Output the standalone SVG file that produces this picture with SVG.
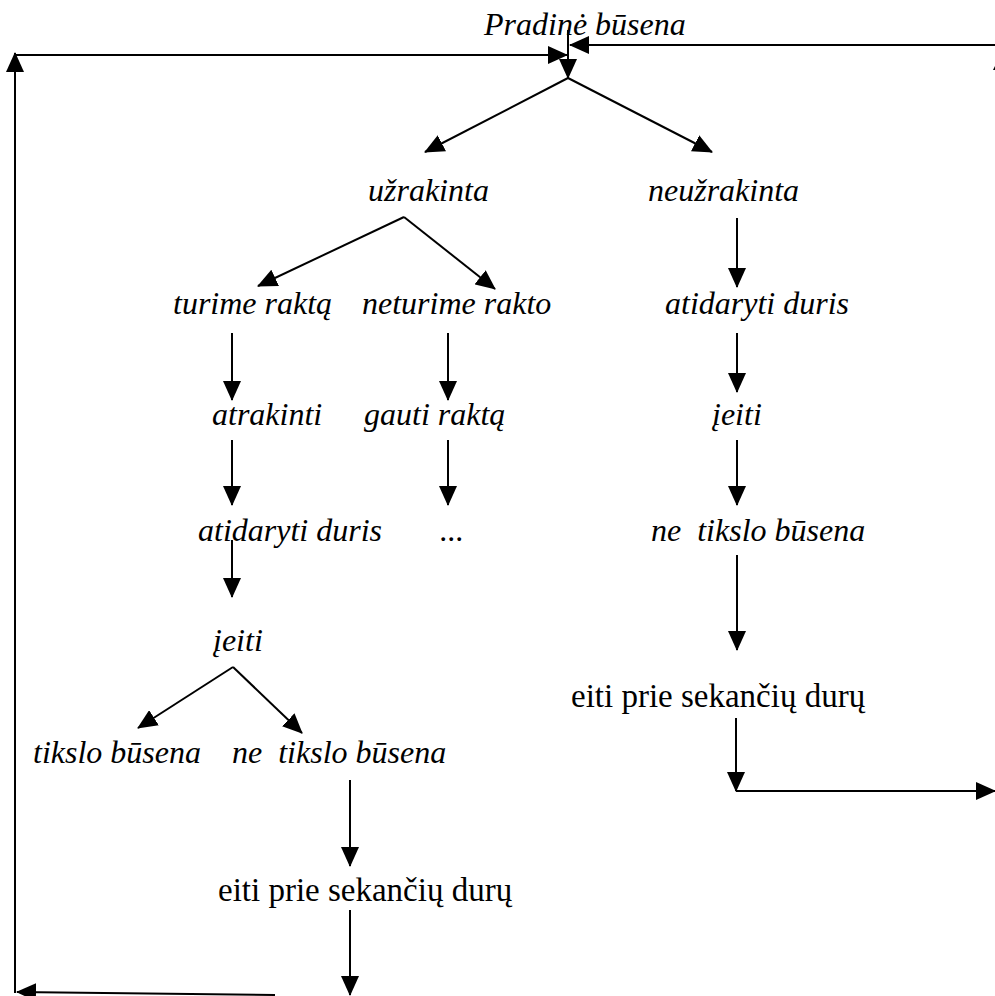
<svg xmlns="http://www.w3.org/2000/svg" width="995" height="996" viewBox="0 0 995 996">
<defs>
<marker id="ah" markerUnits="userSpaceOnUse" markerWidth="20" markerHeight="18" viewBox="0 0 20 18" refX="19" refY="9" orient="auto">
<path d="M0,0 L20,9 L0,18 z" fill="#000"/>
</marker>
<style>
.t{font-family:"Liberation Serif","Times New Roman",serif;font-size:32px;fill:#000}
.r{font-size:33px}
.i{font-style:italic}
.c line{stroke:#000;stroke-width:2;fill:none}
.c .a{marker-end:url(#ah)}
</style>
</defs>
<rect width="995" height="996" fill="#fff"/>
<g id="n-start"><text class="t i" x="484" y="35">Pradinė būsena</text></g>
<g id="n-uzrakinta"><text class="t i" x="368" y="201">užrakinta</text></g>
<g id="n-neuzrakinta"><text class="t i" x="648" y="201">neužrakinta</text></g>
<g id="n-turime"><text class="t i" x="173" y="314">turime raktą</text></g>
<g id="n-neturime"><text class="t i" x="362" y="314">neturime rakto</text></g>
<g id="n-atidaryti-r"><text class="t i" x="665" y="314">atidaryti duris</text></g>
<g id="n-atrakinti"><text class="t i" x="212" y="425">atrakinti</text></g>
<g id="n-gauti"><text class="t i" x="364" y="425">gauti raktą</text></g>
<g id="n-ieiti-r"><text class="t i" x="712" y="425">įeiti</text></g>
<g id="n-atidaryti-l"><text class="t i" x="198" y="541">atidaryti duris</text></g>
<g id="n-dots"><text class="t i" x="440" y="541">...</text></g>
<g id="n-netikslo-r"><text class="t i" x="651" y="541" xml:space="preserve">ne  tikslo būsena</text></g>
<g id="n-ieiti-l"><text class="t i" x="213" y="651">įeiti</text></g>
<g id="n-eiti-r"><text class="t r" x="571" y="707">eiti prie sekančių durų</text></g>
<g id="n-tikslo"><text class="t i" x="33" y="763">tikslo būsena</text></g>
<g id="n-netikslo-l"><text class="t i" x="232" y="763" xml:space="preserve">ne  tikslo būsena</text></g>
<g id="n-eiti-l"><text class="t r" x="218" y="901">eiti prie sekančių durų</text></g>
<g id="connectors" class="c">
<line class="a" x1="568" y1="30" x2="568" y2="78"/>
<line class="a" x1="568" y1="78" x2="425" y2="152"/>
<line class="a" x1="568" y1="78" x2="712" y2="152"/>
<line class="a" x1="404" y1="217" x2="258" y2="286"/>
<line class="a" x1="404" y1="217" x2="495" y2="289"/>
<line class="a" x1="232" y1="333" x2="232" y2="400"/>
<line class="a" x1="448" y1="333" x2="448" y2="400"/>
<line class="a" x1="737" y1="218" x2="737" y2="287"/>
<line class="a" x1="737" y1="333" x2="737" y2="392"/>
<line class="a" x1="232" y1="440" x2="232" y2="505"/>
<line class="a" x1="448" y1="440" x2="448" y2="505"/>
<line class="a" x1="737" y1="440" x2="737" y2="505"/>
<line class="a" x1="232" y1="540" x2="232" y2="597"/>
<line class="a" x1="737" y1="555" x2="737" y2="650"/>
<line class="a" x1="233" y1="667" x2="138" y2="728"/>
<line class="a" x1="233" y1="667" x2="302" y2="733"/>
<line class="a" x1="350" y1="780" x2="350" y2="866"/>
<line class="a" x1="736" y1="718" x2="736" y2="791"/>
<line class="a" x1="736" y1="791" x2="995" y2="791"/>
<line class="a" x1="350" y1="910" x2="350" y2="995"/>
<line class="a" x1="275" y1="995" x2="17" y2="992"/>
<line class="a" x1="15" y1="993" x2="15" y2="53"/>
<line class="a" x1="15" y1="55" x2="567" y2="55"/>
<line class="a" x1="995" y1="45" x2="570" y2="45"/>
<polygon points="1001,54 993,70 1009,70" fill="#000"/>
</g>
</svg>
